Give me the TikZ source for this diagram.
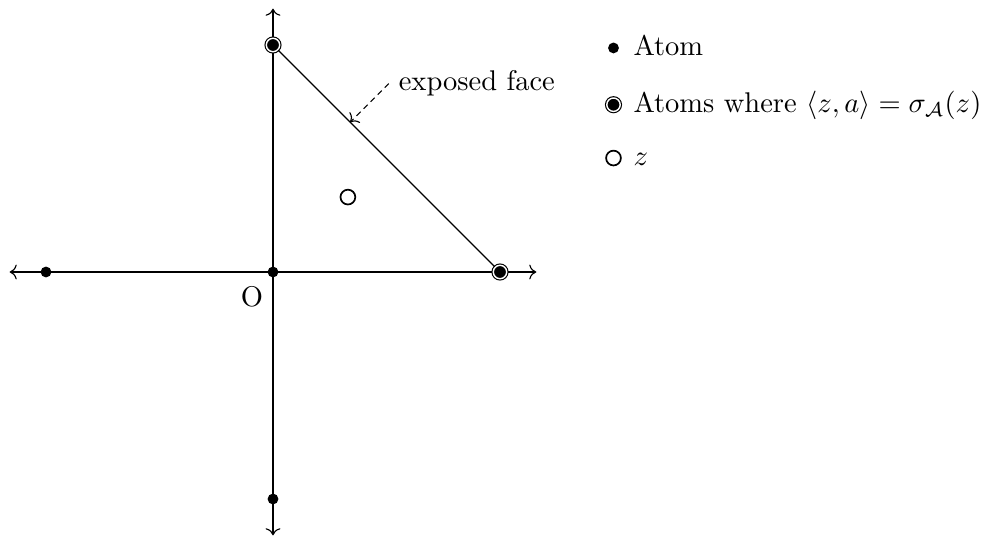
\documentclass[tikz,border=0pt]{standalone}
\usepackage{amsmath,amssymb}
\usetikzlibrary{arrows.meta,positioning}

\begin{document}
\begin{tikzpicture}[
  x=2.8cm, y=2.8cm,
  atom/.style={circle, fill=black, inner sep=0pt, minimum size=3.8pt},
  faceatom/.style={circle, draw=black, fill=black, double=white,
                   double distance=0.5pt, inner sep=0pt, minimum size=4.7pt},
  zpoint/.style={circle, draw=black, fill=white, line width=0.6pt,
                 inner sep=0pt, minimum size=5.2pt},
  keytext/.style={anchor=west, text height=1.5ex, text depth=.25ex},
  facearrow/.style={->, dash pattern=on 2pt off 1.5pt}
]
\useasboundingbox (-1.2026,-1.1718) rectangle (3.1718,1.1982);

% Axes
\coordinate (xmin) at (-1.16,0);
\coordinate (xmax) at (1.16,0);
\coordinate (ymin) at (0,-1.16);
\coordinate (ymax) at (0,1.16);
\draw[<->] (xmin) -- (xmax);
\draw[<->] (ymin) -- (ymax);

% Atoms
\node[atom]     (orig)  at (0,0)  {};
\node[atom]     (aleft) at (-1,0) {};
\node[atom]     (adown) at (0,-1) {};
\node[faceatom] (atop)  at (0,1)  {};
\node[faceatom] (aright) at (1,0) {};
\node[anchor=north east] (olabel) at (0,-0.02) {O};

% Exposed face
\draw (atop) -- (aright);
\coordinate (face) at (0.34,0.66);
\node[anchor=west] (facelbl) at (0.51,0.83) {exposed face};
\draw[facearrow] (facelbl.west) -- (face);

% The point z
\node[zpoint] (zpt) at (0.33,0.33) {};

% Legend
\node[atom]     (keyatom) at (1.5,0.987) {};
\node[faceatom] (keyface) at (1.5,0.737) {};
\node[zpoint]   (keyz)    at (1.5,0.502) {};
\node[keytext] (keyatomlbl) at (1.544,0.987) {Atom};
\node[keytext] (keyfacelbl) at (1.544,0.737) {Atoms where $\langle z,a\rangle=\sigma_{\mathcal{A}}(z)$};
\node[keytext] (keyzlbl)    at (1.544,0.502) {$z$};

\end{tikzpicture}
\end{document}
